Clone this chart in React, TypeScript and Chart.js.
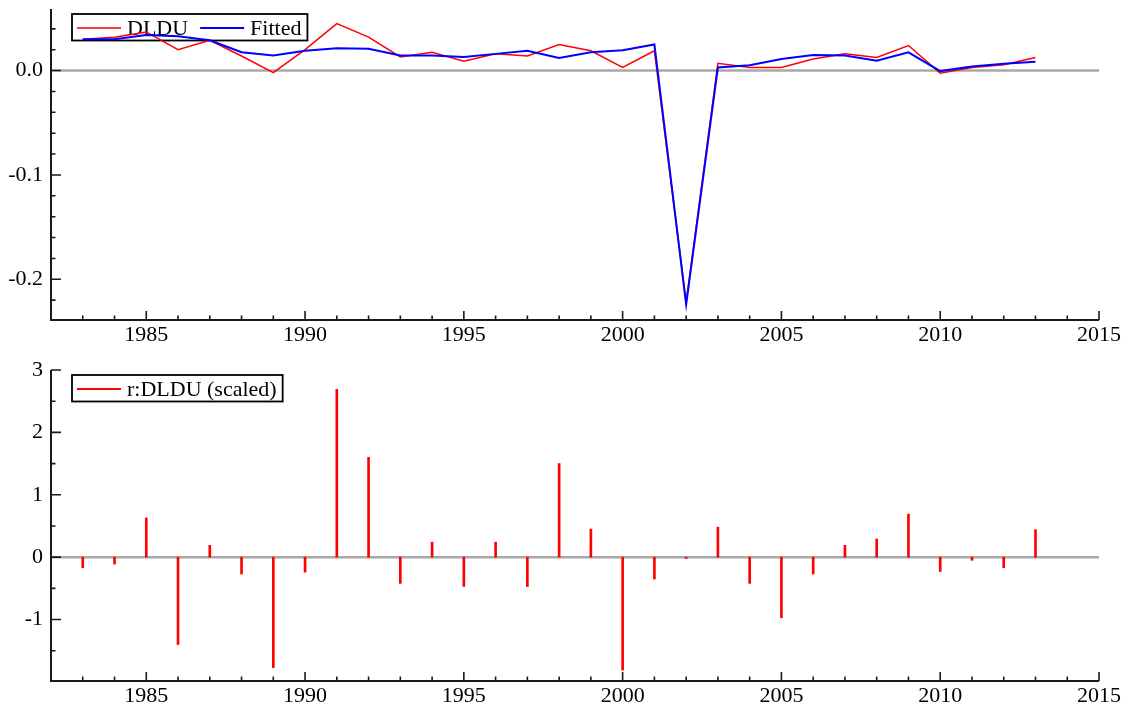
import React, { useEffect, useRef } from "react";
import { Chart, registerables } from "chart.js";

Chart.register(...registerables);

const years = [
  1983, 1984, 1985, 1986, 1987, 1988, 1989, 1990, 1991, 1992, 1993, 1994, 1995, 1996, 1997, 1998,
  1999, 2000, 2001, 2002, 2003, 2004, 2005, 2006, 2007, 2008, 2009, 2010, 2011, 2012, 2013,
];
const dldu = [
  0.03, 0.032, 0.037, 0.02, 0.029, 0.014, -0.002, 0.02, 0.045, 0.032, 0.013, 0.0175, 0.009, 0.016,
  0.014, 0.025, 0.019, 0.003, 0.019, -0.222, 0.007, 0.003, 0.003, 0.011, 0.016, 0.0125, 0.024,
  -0.0025, 0.003, 0.0055, 0.0125,
];
const fitted = [
  0.03, 0.03, 0.034, 0.033, 0.029, 0.0175, 0.0145, 0.019, 0.0215, 0.021, 0.0145, 0.0145, 0.013,
  0.016, 0.019, 0.012, 0.0175, 0.0195, 0.025, -0.224, 0.003, 0.005, 0.011, 0.015, 0.0145, 0.0095,
  0.0175, -0.0005, 0.004, 0.0065, 0.0085,
];
const residuals = [
  -0.17, -0.11, 0.63, -1.4, 0.19, -0.27, -1.77, -0.24, 2.69, 1.6, -0.42, 0.24, -0.47, 0.24, -0.47,
  1.5, 0.45, -1.81, -0.35, -0.02, 0.48, -0.42, -0.97, -0.27, 0.19, 0.29, 0.69, -0.23, -0.05, -0.17,
  0.44,
];
const xTickYears = [1985, 1990, 1995, 2000, 2005, 2010, 2015];
const topYTicks = [0, -0.1, -0.2];
const bottomYTicks = [3, 2, 1, 0, -1];
const topLabels = ["DLDU", "Fitted"];
const bottomLabels = ["r:DLDU (scaled)"];

const FONT_FAMILY = '"Liberation Serif", "Times New Roman", serif';
const FONT_SIZE = 22;
const RED = "#ff0000";
const BLUE = "#0000ff";

type LegendItem = { label: string; color: string; width: number };

function framePlugin(yMinorStep: number, legend: LegendItem[]) {
  return {
    id: "frame",
    beforeDatasetsDraw(chart: any) {
      const { ctx, chartArea: a, scales } = chart;
      const ys = scales.y;
      ctx.save();
      // zero line
      const y0 = ys.getPixelForValue(0);
      ctx.strokeStyle = "#a8a8a8";
      ctx.lineWidth = 2.5;
      ctx.beginPath();
      ctx.moveTo(a.left, y0);
      ctx.lineTo(a.right, y0);
      ctx.stroke();
      // legend
      ctx.font = `${FONT_SIZE}px ${FONT_FAMILY}`;
      const boxLeft = a.left + 21;
      const boxTop = a.top + 5;
      const boxH = 26.5;
      let x = boxLeft + 5;
      for (const it of legend) {
        ctx.strokeStyle = it.color;
        ctx.lineWidth = it.width;
        ctx.beginPath();
        ctx.moveTo(x, boxTop + 14);
        ctx.lineTo(x + 44, boxTop + 14);
        ctx.stroke();
        x += 50;
        ctx.fillStyle = "#000";
        ctx.textBaseline = "alphabetic";
        ctx.textAlign = "left";
        ctx.fillText(it.label, x, boxTop + 21);
        x += ctx.measureText(it.label).width + 12;
      }
      const boxRight = x - 12 + 6;
      ctx.strokeStyle = "#000";
      ctx.lineWidth = 1.8;
      ctx.strokeRect(boxLeft, boxTop, boxRight - boxLeft, boxH);
      ctx.restore();
    },
    afterDatasetsDraw(chart: any) {
      const { ctx, chartArea: a, scales } = chart;
      const xs = scales.x;
      const ys = scales.y;
      ctx.save();
      ctx.strokeStyle = "#1a1a1a";
      ctx.lineWidth = 2;
      ctx.beginPath();
      ctx.moveTo(a.left, a.top);
      ctx.lineTo(a.left, a.bottom);
      ctx.lineTo(a.right, a.bottom);
      ctx.stroke();
      // x ticks (inward)
      ctx.lineWidth = 1.6;
      ctx.beginPath();
      for (let yr = Math.ceil(xs.min); yr <= xs.max; yr++) {
        if (yr === xs.min) continue;
        const px = xs.getPixelForValue(yr);
        const len = yr % 5 === 0 ? 9 : 4.5;
        ctx.moveTo(px, a.bottom);
        ctx.lineTo(px, a.bottom - len);
      }
      // y ticks (inward)
      const majors = (ys.ticks || []).map((t: any) => t.value);
      const start = Math.ceil(ys.min / yMinorStep - 1e-6);
      const end = Math.floor(ys.max / yMinorStep + 0.05);
      for (let k = start; k <= end; k++) {
        const v = k * yMinorStep;
        const isMajor = majors.some((m: number) => Math.abs(m - v) < yMinorStep / 10);
        const py = Math.max(a.top, ys.getPixelForValue(v));
        ctx.moveTo(a.left, py);
        ctx.lineTo(a.left + (isMajor ? 10 : 4.5), py);
      }
      ctx.stroke();
      ctx.restore();
    },
  };
}

function xScale(height: number) {
  return {
    type: "linear",
    min: 1982,
    max: 2015,
    offset: false,
    grid: { display: false, drawTicks: false },
    border: { display: false },
    ticks: {
      color: "#000",
      font: { family: FONT_FAMILY, size: FONT_SIZE },
      padding: 2,
      maxRotation: 0,
      autoSkip: false,
      callback: (v: number) => String(v),
    },
    afterBuildTicks: (s: any) => {
      s.ticks = xTickYears.map((v) => ({ value: v }));
    },
    afterFit: (s: any) => {
      s.height = height;
    },
  };
}

function yScale(min: number, max: number, ticks: number[], fmt: (v: number) => string) {
  return {
    type: "linear",
    min,
    max,
    grid: { display: false, drawTicks: false },
    border: { display: false },
    ticks: {
      color: "#000",
      font: { family: FONT_FAMILY, size: FONT_SIZE },
      padding: 8,
      autoSkip: false,
      callback: (v: number) => fmt(v),
    },
    afterBuildTicks: (s: any) => {
      s.ticks = ticks.map((v) => ({ value: v }));
    },
    afterFit: (s: any) => {
      s.width = 51;
      s.paddingTop = 0;
      s.paddingBottom = 0;
    },
  };
}

export default function App() {
  const topRef = useRef<HTMLCanvasElement>(null);
  const botRef = useRef<HTMLCanvasElement>(null);

  useEffect(() => {
    const top = new Chart(topRef.current as HTMLCanvasElement, {
      type: "line",
      data: {
        datasets: [
          {
            label: topLabels[0],
            data: years.map((y, i) => ({ x: y, y: dldu[i] })),
            borderColor: RED,
            borderWidth: 1.5,
            pointRadius: 0,
            tension: 0,
            order: 1,
          },
          {
            label: topLabels[1],
            data: years.map((y, i) => ({ x: y, y: fitted[i] })),
            borderColor: BLUE,
            borderWidth: 2,
            pointRadius: 0,
            tension: 0,
            order: 0,
          },
        ],
      },
      options: {
        responsive: false,
        maintainAspectRatio: false,
        animation: false,
        layout: { padding: { top: 9, right: 29, left: 0, bottom: 0 } },
        plugins: { legend: { display: false }, tooltip: { enabled: false } },
        scales: {
          x: xScale(34),
          y: yScale(-0.239, 0.059, topYTicks, (v) => (Math.abs(v) < 1e-9 ? "0.0" : v.toFixed(1))),
        },
      } as any,
      plugins: [
        framePlugin(0.02, [
          { label: topLabels[0], color: RED, width: 1.5 },
          { label: topLabels[1], color: BLUE, width: 2 },
        ]),
      ],
    });

    const bot = new Chart(botRef.current as HTMLCanvasElement, {
      type: "bar",
      data: {
        datasets: [
          {
            label: bottomLabels[0],
            data: years.map((y, i) => ({ x: y, y: residuals[i] })),
            backgroundColor: RED,
            borderWidth: 0,
            barThickness: 2,
          },
        ],
      },
      options: {
        responsive: false,
        maintainAspectRatio: false,
        animation: false,
        layout: { padding: { top: 16, right: 29, left: 0, bottom: 0 } },
        plugins: { legend: { display: false }, tooltip: { enabled: false } },
        scales: {
          x: xScale(27),
          y: yScale(-1.985, 3, bottomYTicks, (v) => String(Math.round(v))),
        },
      } as any,
      plugins: [framePlugin(0.5, [{ label: bottomLabels[0], color: RED, width: 2 }])],
    });

    return () => {
      top.destroy();
      bot.destroy();
    };
  }, []);

  return (
    <div
      style={{
        position: "absolute",
        left: 0,
        top: 0,
        width: 1128,
        height: 708,
        background: "#fff",
      }}
    >
      <canvas
        ref={topRef}
        width={1128}
        height={354}
        style={{ position: "absolute", left: 0, top: 0, width: 1128, height: 354 }}
      />
      <canvas
        ref={botRef}
        width={1128}
        height={354}
        style={{ position: "absolute", left: 0, top: 354, width: 1128, height: 354 }}
      />
    </div>
  );
}
